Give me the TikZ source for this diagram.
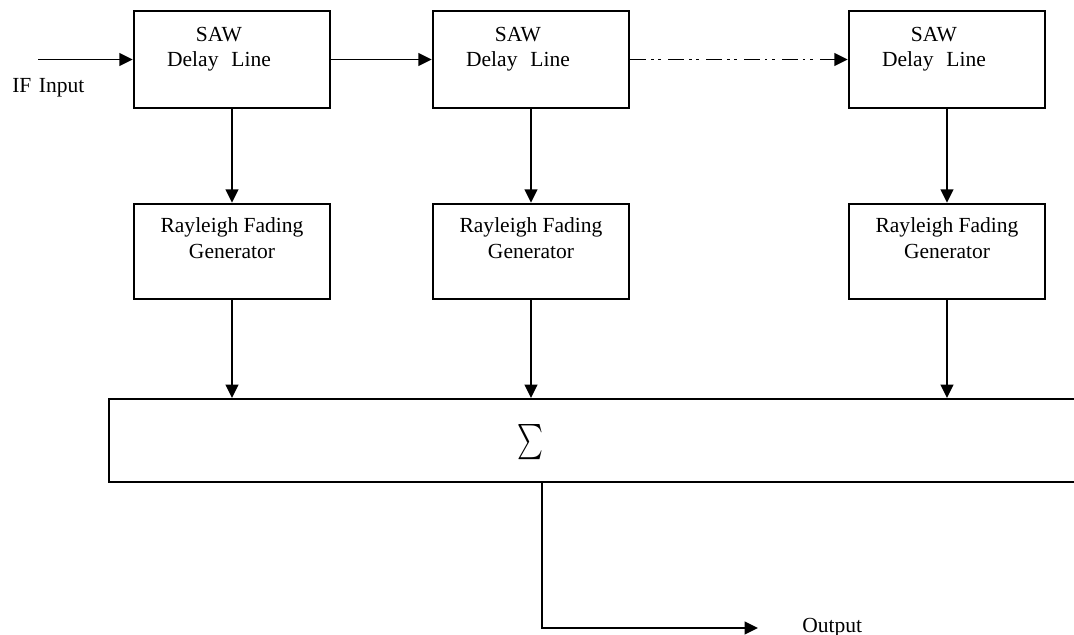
\documentclass[tikz,border=0pt]{standalone}
\usepackage{fontspec}
\setmainfont{Liberation Serif}
\usetikzlibrary{arrows.meta,calc}
\begin{document}
\begin{tikzpicture}[x=0.025cm,y=-0.025cm,
  blk/.style={draw, line width=1.7pt, minimum width=4.9cm, inner sep=0pt},
  sawbox/.style={blk, minimum height=2.425cm},
  raybox/.style={blk, minimum height=2.375cm},
  lbl/.style={align=center, inner sep=0pt, font=\fontsize{15.3}{17.8}\selectfont},
  tip/.style={-{Triangle[length=9.5pt,width=9pt]}},
  arr/.style={line width=1.4pt, tip},
  dashdotdot/.style={dash pattern=on 11.4pt off 3.4pt on 1.8pt off 3.4pt on 1.8pt off 5.2pt}
]
\useasboundingbox (0,0) rectangle (1074,635);
\clip (0,0) rectangle (1074,635);

% delay line stages
\node[sawbox] (saw1) at (232,59.5) {};
\node[sawbox] (saw2) at (531,59.5) {};
\node[sawbox] (saw3) at (947,59.5) {};
\node[lbl, anchor=north] (saw1t) at ($(saw1.north)+(-13,17)$) {SAW\\Delay\hspace{0.6em}Line};
\node[lbl, anchor=north] (saw2t) at ($(saw2.north)+(-13,17)$) {SAW\\Delay\hspace{0.6em}Line};
\node[lbl, anchor=north] (saw3t) at ($(saw3.north)+(-13,17)$) {SAW\\Delay\hspace{0.6em}Line};

% fading generators
\node[raybox] (ray1) at (232,251.5) {};
\node[raybox] (ray2) at (531,251.5) {};
\node[raybox] (ray3) at (947,251.5) {};
\node[lbl, anchor=north] (ray1t) at ($(ray1.north)+(0,15)$) {Rayleigh Fading\\Generator};
\node[lbl, anchor=north] (ray2t) at ($(ray2.north)+(0,15)$) {Rayleigh Fading\\Generator};
\node[lbl, anchor=north] (ray3t) at ($(ray3.north)+(0,15)$) {Rayleigh Fading\\Generator};

% summer (runs off the right edge)
\node[draw, line width=1.5pt, minimum width=25.025cm, minimum height=2.075cm, inner sep=0pt] (sum) at (609.5,440.5) {};
\node (sigma) at (530,442) {\scalebox{1.75}[2.5]{$\sum$}};

% input and output
\coordinate (ifin) at (38,59.5);
\node[lbl, anchor=base west] (iflbl) at (12,93) {IF\hspace{0.35em}Input};
\coordinate (outc) at (542,628);
\coordinate (outend) at (758,628);
\node[lbl, anchor=base west] (outlbl) at (802,632) {Output};

% connectors
\draw[arr] (ifin) -- (saw1.west);
\draw[arr] (saw1.east) -- (saw2.west);
\draw[arr, dashdotdot] (saw2.east) -- (saw3.west);
\foreach \i in {1,2,3}{
  \draw[arr] (saw\i.south) -- (ray\i.north);
  \draw[arr] (ray\i.south) -- (ray\i.south |- sum.north);
}
\draw[arr] (outc |- sum.south) -- (outc) -- (outend);
\end{tikzpicture}
\end{document}
